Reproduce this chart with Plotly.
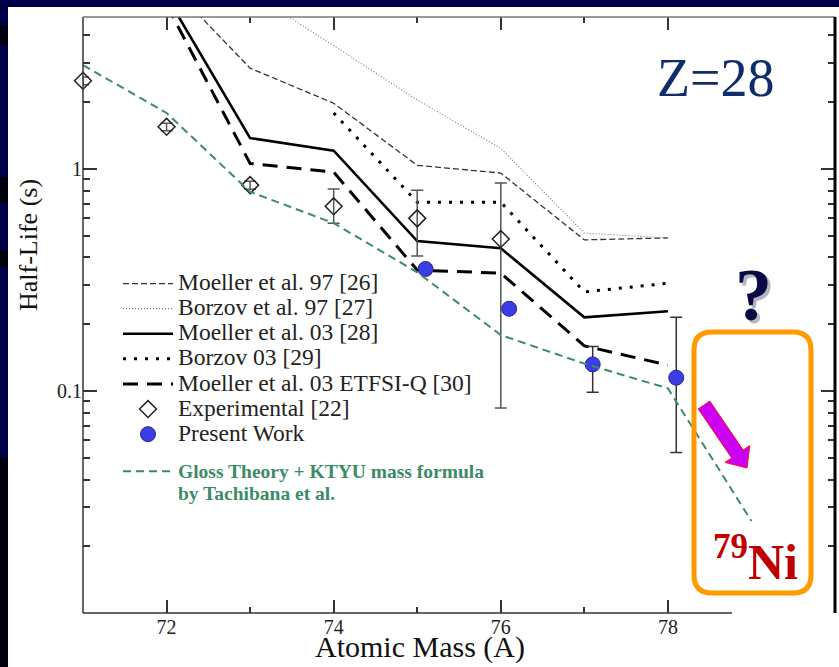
import plotly.graph_objects as go
import math

# ---------------- data ----------------
mass_theory = [72, 73, 74, 75, 76, 77, 78]
moeller97 = [7.0, 2.85, 1.98, 1.04, 0.96, 0.48, 0.49]
mass_borzov97 = [73, 74, 75, 76, 77, 78]
borzov97 = [6.3, 3.6, 2.05, 1.24, 0.515, 0.49]
moeller03 = [6.0, 1.38, 1.21, 0.474, 0.44, 0.215, 0.229]
mass_borzov03 = [74, 75, 76, 77, 78]
borzov03 = [1.79, 0.71, 0.71, 0.28, 0.306]
moeller03_etfsi = [5.5, 1.06, 0.97, 0.351, 0.34, 0.16, 0.131]

mass_gloss = [71, 72, 73, 74, 75, 76, 77, 78, 79]
gloss = [2.94, 1.79, 0.79, 0.571, 0.343, 0.179, 0.133, 0.103, 0.026]

mass_exp = [71, 72, 73, 74, 75, 76]
halflife_exp = [2.5, 1.55, 0.847, 0.68, 0.60, 0.484]
exp_err_plus = [0.1, 0.06, 0.035, 0.133, 0.204, 0.381]
exp_err_minus = [0.1, 0.06, 0.035, 0.109, 0.194, 0.400]

mass_present = [75.1, 76.1, 77.1, 78.1]
halflife_present = [0.355, 0.235, 0.132, 0.115]
present_err_plus = [None, None, 0.027, 0.100]
present_err_minus = [None, None, 0.033, 0.062]

x_ticks = [72, 74, 76, 78]
x_minor_ticks = [73, 75, 77]

# ---------------- geometry helpers ----------------
W, H = 839, 667
L, R, T, B = 83, 835, 17, 613   # plot area in pixels
def px(x):  # pixel -> paper x
    return (x - L) / (R - L)
def py(y):  # pixel -> paper y
    return (B - y) / (B - T)

SERIF = "Liberation Serif"
GREEN = "#3b8c66"
LEG_TXT = "<span style='font-size:23.5px'>%s</span>"

fig = go.Figure()

fig.add_trace(go.Scatter(x=mass_theory, y=moeller97, mode="lines",
                         name=LEG_TXT % "Moeller et al. 97 [26]", legendgroup="a",
                         line=dict(color="#333333", width=1.3, dash="6px,3px")))
fig.add_trace(go.Scatter(x=mass_borzov97, y=borzov97, mode="lines",
                         name=LEG_TXT % "Borzov et al. 97 [27]", legendgroup="a",
                         line=dict(color="#777777", width=1.1, dash="1px,2px")))
fig.add_trace(go.Scatter(x=mass_theory, y=moeller03, mode="lines",
                         name=LEG_TXT % "Moeller et al. 03 [28]", legendgroup="a",
                         line=dict(color="#000000", width=2.6)))
fig.add_trace(go.Scatter(x=mass_borzov03, y=borzov03, mode="lines",
                         name=LEG_TXT % "Borzov 03 [29]", legendgroup="a",
                         line=dict(color="#000000", width=3, dash="3px,8px")))
fig.add_trace(go.Scatter(x=mass_theory, y=moeller03_etfsi, mode="lines",
                         name=LEG_TXT % "Moeller et al. 03 ETFSI-Q [30]", legendgroup="a",
                         line=dict(color="#000000", width=3, dash="15px,9px")))
fig.add_trace(go.Scatter(x=mass_exp, y=halflife_exp, mode="markers",
                         name=LEG_TXT % "Experimental [22]", legendgroup="a", cliponaxis=False,
                         marker=dict(symbol="diamond-open", size=13,
                                     color="#222222", line=dict(width=1.5, color="#222222")),
                         error_y=dict(type="data", symmetric=False, array=exp_err_plus,
                                      arrayminus=exp_err_minus, color="#555555",
                                      thickness=1.5, width=6)))
fig.add_trace(go.Scatter(x=mass_present, y=halflife_present, mode="markers",
                         name=LEG_TXT % "Present Work", legendgroup="a", cliponaxis=False,
                         marker=dict(symbol="circle", size=15, color="#3d3de6",
                                     line=dict(width=1, color="#24248f")),
                         error_y=dict(type="data", symmetric=False, array=present_err_plus,
                                      arrayminus=present_err_minus, color="#333333",
                                      thickness=1.5, width=6)))
fig.add_trace(go.Scatter(x=mass_gloss, y=gloss, mode="lines",
                         name=("<span style='color:%s;font-size:19.5px'><b>Gloss Theory + KTYU mass formula"
                               "<br>by Tachibana et al.</b></span>" % GREEN),
                         legendgroup="b",
                         line=dict(color=GREEN, width=2, dash="8px,5px")))

shapes = []
# page background (white card on navy slide)
shapes.append(dict(type="rect", xref="paper", yref="paper", layer="below",
                   x0=px(8), x1=px(W + 2), y0=py(H + 2), y1=py(7),
                   fillcolor="white", line=dict(width=0)))
for (y0, y1) in [(25, 45), (177, 203), (250, 267), (457, H + 2)]:
    shapes.append(dict(type="rect", xref="paper", yref="paper", layer="below",
                       x0=px(-2), x1=px(8), y0=py(y1), y1=py(y0),
                       fillcolor="#00000f", line=dict(width=0)))
# frame lines
shapes.append(dict(type="line", xref="paper", yref="paper", x0=0, x1=0, y0=0, y1=1,
                   line=dict(color="#333333", width=1.5)))
shapes.append(dict(type="line", xref="paper", yref="paper", x0=0, x1=1, y0=1, y1=1,
                   line=dict(color="#777777", width=1.5)))
shapes.append(dict(type="line", xref="paper", yref="paper", x0=1, x1=1, y0=0, y1=1,
                   line=dict(color="#000000", width=3)))
shapes.append(dict(type="line", xref="paper", yref="paper", x0=0, x1=px(732), y0=0, y1=0,
                   line=dict(color="#333333", width=1.5)))

# orange rounded box
bx0, bx1, by0, by1, r = 694, 811, 332, 593, 18
def P(x, y):
    return "%.5f,%.5f" % (px(x), py(y))
box_path = ("M " + P(bx0 + r, by0) + " L " + P(bx1 - r, by0) +
            " Q " + P(bx1, by0) + " " + P(bx1, by0 + r) +
            " L " + P(bx1, by1 - r) + " Q " + P(bx1, by1) + " " + P(bx1 - r, by1) +
            " L " + P(bx0 + r, by1) + " Q " + P(bx0, by1) + " " + P(bx0, by1 - r) +
            " L " + P(bx0, by0 + r) + " Q " + P(bx0, by0) + " " + P(bx0 + r, by0) + " Z")
shapes.append(dict(type="path", xref="paper", yref="paper", path=box_path,
                   line=dict(color="#ff9a00", width=5)))

# magenta block arrow
tx, ty, tipx, tipy = 704, 405, 747, 468
dx, dy = tipx - tx, tipy - ty
ln = math.hypot(dx, dy)
ux, uy = dx / ln, dy / ln
nx, ny = uy, -ux
w, hw, hl = 7, 15, 17
bxh, byh = tipx - hl * ux, tipy - hl * uy
pts = [(tx + w * nx, ty + w * ny), (bxh + w * nx, byh + w * ny), (bxh + hw * nx, byh + hw * ny),
       (tipx, tipy), (bxh - hw * nx, byh - hw * ny), (bxh - w * nx, byh - w * ny),
       (tx - w * nx, ty - w * ny)]
arrow_path = "M " + " L ".join(P(a, b) for a, b in pts) + " Z"
shapes.append(dict(type="path", xref="paper", yref="paper", path=arrow_path,
                   fillcolor="#cc00f5", line=dict(color="#ff1010", width=1)))

def ann(text, x, y, size, color, angle=0):
    return dict(text=text, x=px(x), y=py(y), xref="paper", yref="paper",
                xanchor="center", yanchor="middle", textangle=angle, showarrow=False,
                font=dict(family=SERIF, size=size, color=color))

annotations = [
    ann("Half-Life (s)", 28, 245, 26, "#111111", -90),
    ann("Atomic Mass (A)", 420, 647, 30, "#111111"),
    ann("Z=28", 715, 78, 54, "#0f2d6b"),
    ann("<b>?</b>", 756, 298, 74, "rgba(90,90,110,0.45)"),
    ann("<b>?</b>", 753, 295, 74, "#0a0a45"),
    ann("<b><sup>79</sup>Ni</b>", 755, 558, 50, "#c00000"),
]

fig.update_layout(
    width=W, height=H,
    margin=dict(l=L, r=W - R, t=T, b=H - B),
    paper_bgcolor="#00004a", plot_bgcolor="white",
    font=dict(family=SERIF, size=20, color="#222222"),
    shapes=shapes, annotations=annotations,
    showlegend=True,
    legend=dict(x=px(118), y=py(266), xanchor="left", yanchor="top",
                bgcolor="rgba(0,0,0,0)", font=dict(family=SERIF, size=17, color="#222222"),
                tracegroupgap=12, valign="top", itemwidth=50),
    xaxis=dict(range=[71, 80], tickmode="array", tickvals=x_ticks, ticks="inside",
               ticklen=13, tickwidth=1.5, tickcolor="#333333", mirror="ticks",
               showline=False, showgrid=False, zeroline=False,
               tickfont=dict(family=SERIF, size=20, color="#222222"),
               minor=dict(tickmode="array", tickvals=x_minor_ticks, ticks="inside",
                          ticklen=6, tickwidth=1.5, tickcolor="#333333", showgrid=False)),
    yaxis=dict(type="log", range=[-1.999, 0.685], dtick=1, ticks="inside",
               ticklen=14, tickwidth=1.5, tickcolor="#333333", mirror="ticks",
               showline=False, showgrid=False, zeroline=False,
               tickfont=dict(family=SERIF, size=20, color="#222222"),
               minor=dict(dtick="D1", ticks="inside", ticklen=7, tickwidth=1.5,
                          tickcolor="#333333", showgrid=False)),
)

fig.write_html("out.html")
